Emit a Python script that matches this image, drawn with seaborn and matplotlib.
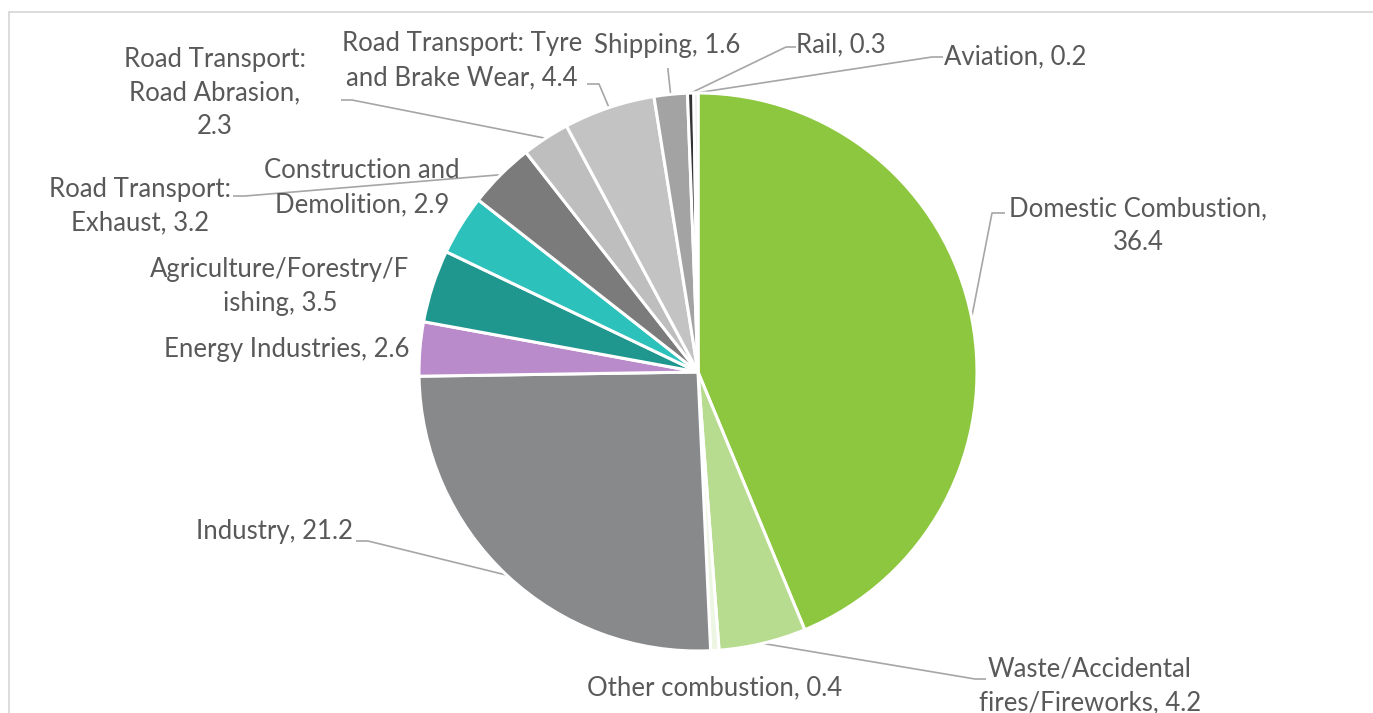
import matplotlib
matplotlib.use("Agg")
import matplotlib.pyplot as plt
import numpy as np
import seaborn as sns

# PM2.5 emission sources (share of total, %)
categories = [
    "Domestic Combustion",
    "Waste/Accidental fires/Fireworks",
    "Other combustion",
    "Industry",
    "Energy Industries",
    "Agriculture/Forestry/Fishing",
    "Construction and Demolition",
    "Road Transport: Exhaust",
    "Road Transport: Road Abrasion",
    "Road Transport: Tyre and Brake Wear",
    "Shipping",
    "Rail",
    "Aviation",
]
values = [36.4, 4.2, 0.4, 21.2, 2.6, 3.5, 2.9, 3.2, 2.3, 4.4, 1.6, 0.3, 0.2]
slice_colors = [
    "#8DC63F", "#B7DC90", "#EDF5E3", "#88898B", "#BA8BCB", "#1F968E",
    "#2CC1BB", "#7B7B7B", "#BEBEBE", "#C3C3C3", "#A3A3A3", "#333333", "#E4E4E4",
]

# character positions where each label wraps (Excel-style wrapping)
label_breaks = {0: [20], 1: [16], 5: [22], 6: [16], 7: [15], 8: [15, 30], 9: [20]}

# label centres and leader-line anchors, in pixels from the top-left corner
label_pos = [
    (1138, 226), (1090, 686), (715, 688), (274, 531), (287, 350), (280, 286),
    (362, 188), (140, 206), (215, 93), (462, 61), (667, 45), (841, 45), (1015, 57),
]
leader_anchor = {
    0: [(1005, 213), (992, 213)],
    1: [(986, 679), (975, 679)],
    3: [(356, 541), (368, 541)],
    7: [(233, 196), (245, 196)],
    8: [(341, 100), (352, 100)],
    9: [(587, 84), (599, 84)],
    10: [(668, 68), (668, 70)],
    11: [(796, 47), (786, 47)],
    12: [(943, 57), (932, 57)],
}

W, H = 1373, 713
CX, CY, R = 698, 372, 279

sns.set_theme(style="white")
plt.rcParams["font.family"] = ["Lato", "DejaVu Sans"]

fig = plt.figure(figsize=(W / 100, H / 100), dpi=100)
ax = fig.add_axes([0, 0, 1, 1])


def fy(y):
    return H - y


wedges, _ = ax.pie(
    values,
    colors=slice_colors,
    startangle=90,
    counterclock=False,
    center=(CX, fy(CY)),
    radius=R,
    wedgeprops=dict(edgecolor="white", linewidth=2.2),
)

text_color = "#595959"
line_color = "#A6A6A6"

for i, (cat, val) in enumerate(zip(categories, values)):
    full = f"{cat}, {val}"
    cuts = [0] + label_breaks.get(i, []) + [len(full)]
    lines = [full[a:b].strip() for a, b in zip(cuts[:-1], cuts[1:])]
    x, y = label_pos[i]
    ax.text(x, fy(y), "\n".join(lines), ha="center", va="center",
            multialignment="center", fontsize=18.5, color=text_color,
            linespacing=1.45)

    if i in leader_anchor:
        w = wedges[i]
        mid = np.deg2rad((w.theta1 + w.theta2) / 2)
        ex = CX + R * np.cos(mid)
        ey = fy(CY) + R * np.sin(mid)
        (ax_, ay_), (bx, by) = leader_anchor[i]
        ax.plot([ax_, bx, ex], [fy(ay_), fy(by), ey], color=line_color,
                lw=1.2, solid_capstyle="butt", zorder=0)

# outer chart border
ax.plot([9, W], [fy(12), fy(12)], color="#D9D9D9", lw=1.3)
ax.plot([9, 9], [fy(12), 0], color="#D9D9D9", lw=1.3)

ax.set_xlim(0, W)
ax.set_ylim(0, H)
ax.set_aspect("auto")
ax.axis("off")

fig.savefig("out.png", dpi=100, facecolor="white")
